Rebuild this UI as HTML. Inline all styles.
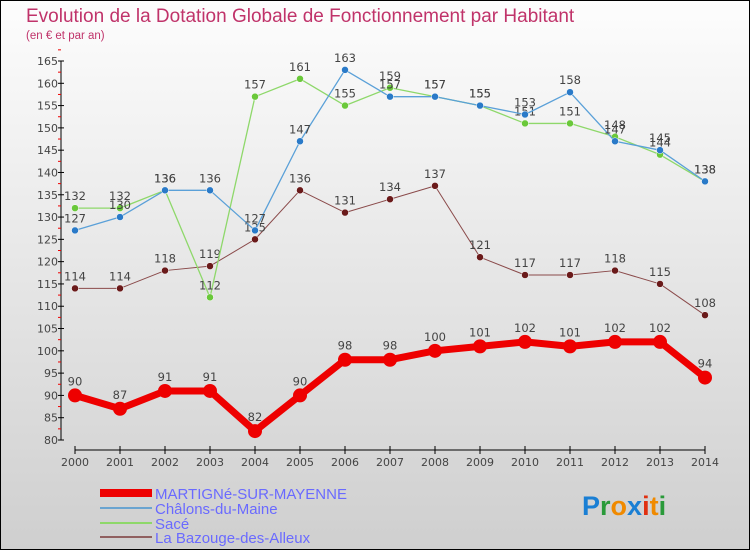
<!DOCTYPE html>
<html><head><meta charset="utf-8"><style>
body{margin:0}
#c{width:750px;height:550px;position:relative;background:linear-gradient(#fdfdfd,#cfcfcf);border:1px solid #000;box-sizing:border-box;font-family:"DejaVu Sans","Liberation Sans",sans-serif}
</style></head><body>
<div id="c">
<svg id="s" width="750" height="550" xmlns="http://www.w3.org/2000/svg" style="position:absolute;left:-1px;top:-1px">
<text x="26" y="22" font-size="19" fill="#c0336a" font-family="Liberation Sans, sans-serif">Evolution de la Dotation Globale de Fonctionnement par Habitant</text>
<text x="26" y="39" font-size="11.5" fill="#c0336a" font-family="Liberation Sans, sans-serif">(en € et par an)</text>
<g id="axes"></g><g id="series"></g>
<g font-family="Liberation Sans, sans-serif" font-size="15" fill="#6a6aff">
<line x1="100" y1="493" x2="152" y2="493" stroke="#e00" stroke-width="8"/>
<text x="155" y="499">MARTIGNé-SUR-MAYENNE</text>
<line x1="100" y1="508" x2="152" y2="508" stroke="#6aa4d0" stroke-width="2"/>
<text x="155" y="514">Châlons-du-Maine</text>
<line x1="100" y1="523" x2="152" y2="523" stroke="#8ed86a" stroke-width="2"/>
<text x="155" y="529">Sacé</text>
<line x1="100" y1="537" x2="152" y2="537" stroke="#906060" stroke-width="2"/>
<text x="155" y="543">La Bazouge-des-Alleux</text>
</g>
<text x="582" y="515" font-size="27" font-family="Liberation Sans, sans-serif" font-weight="bold"><tspan fill="#1a7fd4">P</tspan><tspan fill="#2a9a3a">r</tspan><tspan fill="#f08a00">o</tspan><tspan fill="#1a7fd4">x</tspan><tspan fill="#e03010">i</tspan><tspan fill="#f08a00">t</tspan><tspan fill="#2a9a3a">i</tspan></text>
</svg></div>
<script>
const years=[2000,2001,2002,2003,2004,2005,2006,2007,2008,2009,2010,2011,2012,2013,2014];
const martigne=[90,87,91,91,82,90,98,98,100,101,102,101,102,102,94];
const chalons=[127,130,136,136,127,147,163,157,157,155,153,158,147,145,138];
const sace=[132,132,136,112,157,161,155,159,157,155,151,151,148,144,138];
const bazouge=[114,114,118,119,125,136,131,134,137,121,117,117,118,115,108];
const yTicks=[80,85,90,95,100,105,110,115,120,125,130,135,140,145,150,155,160,165];
const NS='http://www.w3.org/2000/svg';
const X=i=>75+i*45, Y=v=>440-(v-80)*(379/85);
function mk(t,a,p){const e=document.createElementNS(NS,t);for(const k in a)e.setAttribute(k,a[k]);p.appendChild(e);return e;}
const ax=document.getElementById('axes');
mk('line',{x1:61,y1:Y(165),x2:61,y2:Y(80),stroke:'#000'},ax);
yTicks.forEach(v=>{
 mk('line',{x1:58,y1:Y(v),x2:64,y2:Y(v),stroke:'#000'},ax);
 mk('line',{x1:58,y1:Y(v+2.5),x2:61,y2:Y(v+2.5),stroke:'#e00'},ax);
 const t=mk('text',{x:58,y:Y(v)+4,'text-anchor':'end','font-size':11,fill:'#444'},ax);t.textContent=v;
 
 
});
mk('line',{x1:X(0),y1:450,x2:X(14),y2:450,stroke:'#000'},ax);
years.forEach((y,i)=>{
 mk('line',{x1:X(i),y1:446,x2:X(i),y2:454,stroke:'#000'},ax);
 const t=mk('text',{x:X(i),y:466,'text-anchor':'middle','font-size':11,fill:'#444'},ax);t.textContent=y;
 
 
});
const sg=document.getElementById('series');
function draw(vals,col,w,r,name,dot){
 const g=mk('g',{},sg);
 
 
 mk('polyline',{points:vals.map((v,i)=>X(i)+','+Y(v)).join(' '),fill:'none',stroke:col,'stroke-width':w,'stroke-linejoin':'round'},g);
 vals.forEach((v,i)=>{
  const c=mk('circle',{cx:X(i),cy:Y(v),r:r,fill:dot,stroke:'#fff','stroke-width':r>5?0:0.5},g);
  
  
  const t=mk('text',{x:X(i),y:Y(v)-(r>5?10:8),'text-anchor':'middle','font-size':11.5,fill:'#444'},g);t.textContent=v;
  
  
 });
}
draw(bazouge,'#8a4a4a',1,3.5,'series-bazouge','#6a1a1a');
draw(sace,'#8ed86a',1.3,3.5,'series-sace','#6ac83a');
draw(chalons,'#5aa0d8',1.3,3.5,'series-chalons','#2a7ac8');
draw(martigne,'#e00',7,7,'series-martigne','#e00');
</script></body></html>
